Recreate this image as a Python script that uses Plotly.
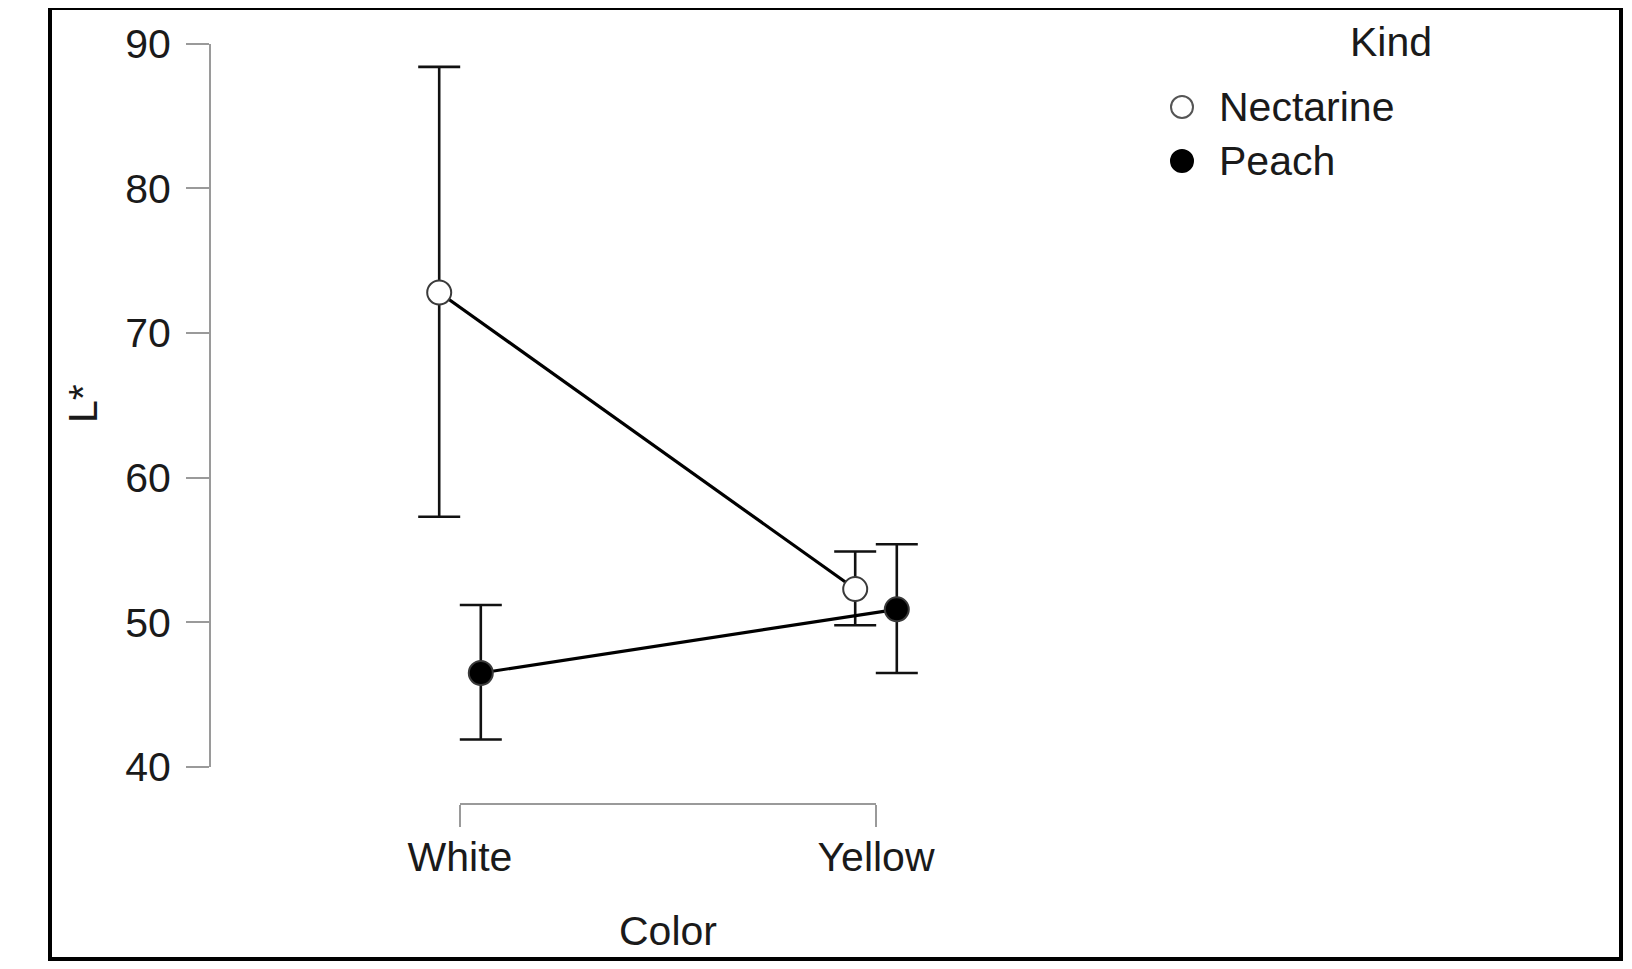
import plotly.graph_objects as go

# fruit colour categories on the x axis
colors = ["White", "Yellow"]
kinds = ["Nectarine", "Peach"]

# mean L* and 95% CI bounds
nectarine_mean = [72.8, 52.3]
nectarine_low = [57.3, 49.8]
nectarine_high = [88.4, 54.9]

peach_mean = [46.5, 50.9]
peach_low = [41.9, 46.5]
peach_high = [51.2, 55.4]

y_ticks = [40, 50, 60, 70, 80, 90]

# the page body adds an 8px margin on every side, keep the page inside the window
PAGE_OFF = 8
W, H = 1632 - 2 * PAGE_OFF, 969 - 2 * PAGE_OFF
FONT = "Liberation Sans, Arial, sans-serif"
FSIZE = 41
AXIS_GREY = "#9a9a9a"

def px_x(p):
    return (p - PAGE_OFF) / W

def px_y(p):
    return 1 - (p - PAGE_OFF) / H

# dodge the two kinds a little around each category
dodge = 0.05
xpos = list(range(len(colors)))

series = [
    (kinds[0], nectarine_mean, nectarine_low, nectarine_high, -dodge, "white"),
    (kinds[1], peach_mean, peach_low, peach_high, dodge, "black"),
]

fig = go.Figure()

for name, mean, low, high, off, fill in series:
    fig.add_trace(go.Scatter(
        x=[x + off for x in xpos],
        y=mean,
        mode="lines+markers",
        name=name,
        showlegend=False,
        line=dict(color="black", width=3.2),
        marker=dict(size=24, color=fill, line=dict(color="#3a3a3a", width=2)),
        error_y=dict(
            type="data",
            symmetric=False,
            array=[h - m for h, m in zip(high, mean)],
            arrayminus=[m - l for m, l in zip(mean, low)],
            color="#111111",
            thickness=2.6,
            width=21,
        ),
        cliponaxis=False,
    ))

# invisible trace so the category axis gets drawn
fig.add_trace(go.Scatter(
    x=xpos, y=[None] * len(xpos), xaxis="x2", yaxis="y",
    mode="markers", showlegend=False, hoverinfo="skip",
))

# data x axis: White at 460px, Yellow at 876px
x_left, x_right = 210, 1100
unit = 876 - 460
x_range = [-(460 - x_left) / unit, (x_right - 460) / unit]

fig.update_layout(
    width=W,
    height=H,
    margin=dict(l=0, r=0, t=0, b=0),
    paper_bgcolor="white",
    plot_bgcolor="rgba(0,0,0,0)",
    font=dict(family=FONT, size=FSIZE, color="#1a1a1a"),
    showlegend=False,
    xaxis=dict(
        domain=[px_x(x_left), px_x(x_right)],
        range=x_range,
        visible=False,
        fixedrange=True,
    ),
    xaxis2=dict(
        domain=[px_x(460), px_x(876)],
        range=[0, 1],
        anchor="free",
        position=px_y(804),
        tickmode="array",
        tickvals=xpos,
        ticktext=colors,
        showline=True,
        linecolor=AXIS_GREY,
        linewidth=2,
        ticks="outside",
        ticklen=22,
        tickwidth=2,
        tickcolor=AXIS_GREY,
        showgrid=False,
        zeroline=False,
        tickfont=dict(size=FSIZE),
        ticklabelstandoff=-5,
        automargin=False,
    ),
    yaxis=dict(
        domain=[px_y(767), px_y(43.7)],
        range=[40, 90],
        anchor="free",
        position=px_x(210),
        tickmode="array",
        tickvals=y_ticks,
        showline=True,
        linecolor=AXIS_GREY,
        linewidth=2,
        ticks="outside",
        ticklen=23,
        tickwidth=2,
        tickcolor=AXIS_GREY,
        showgrid=False,
        zeroline=False,
        tickfont=dict(size=FSIZE),
        ticklabelstandoff=7,
        automargin=False,
    ),
)

def label(text, x, y, xanchor="center", angle=0):
    fig.add_annotation(text=text, x=px_x(x), y=px_y(y), xref="paper", yref="paper",
                       xanchor=xanchor, yanchor="middle", textangle=angle,
                       showarrow=False, font=dict(size=FSIZE))

# axis titles
label("L*", 83, 404, angle=-90)
label("Color", 668, 931)

# legend drawn by hand (title plus marker keys)
label("Kind", 1391, 42)
legend_rows = [107, 161]
for (name, _, _, _, _, fill), ly in zip(series, legend_rows):
    r = 11
    fig.add_shape(type="circle", xref="paper", yref="paper",
                  x0=px_x(1182 - r), x1=px_x(1182 + r),
                  y0=px_y(ly + r), y1=px_y(ly - r),
                  fillcolor=fill, line=dict(color="#555555" if fill == "white" else "black", width=2))
    label(name, 1217, ly, xanchor="left")

# black frame round the whole figure
fig.add_shape(type="rect", xref="paper", yref="paper",
              x0=px_x(50), x1=px_x(1621), y0=px_y(959), y1=px_y(8),
              line=dict(color="black", width=4), fillcolor="rgba(0,0,0,0)")

fig.write_html("out.html")
